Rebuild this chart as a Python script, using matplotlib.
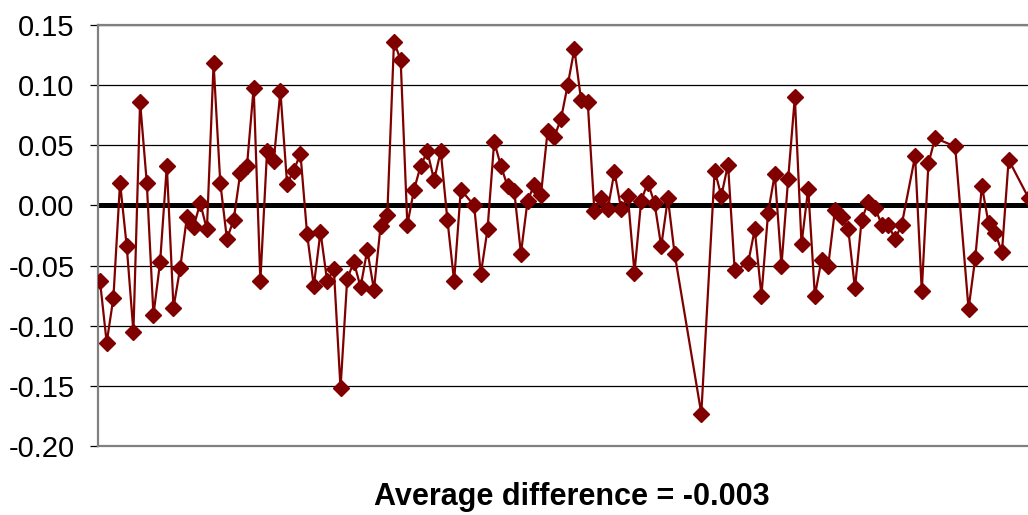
import numpy as np
import matplotlib
matplotlib.use("Agg")
import matplotlib.pyplot as plt

plt.rcParams['font.family'] = ['Liberation Sans', 'DejaVu Sans']

# Observation positions (index along the series) and differences
positions = [
    0, 1, 2, 3, 4, 5, 6, 7, 8, 9, 10, 11, 12, 13, 14, 15, 16, 17, 18, 19,
    20, 21, 22, 23, 24, 25, 26, 27, 28, 29, 30, 31, 32, 33, 34, 35, 36, 37, 38, 39,
    40, 41, 42, 43, 44, 45, 46, 47, 48, 49, 50, 51, 52, 53, 54, 56, 57, 58, 59,
    60, 61, 62, 63, 64, 65, 66, 67, 68, 69, 70, 71, 72, 73, 74, 75, 76, 77, 78, 79,
    80, 81, 82, 83, 84, 85, 86, 90, 92, 93, 94, 95, 97, 98, 99,
    100, 101, 102, 103, 104, 105, 106, 107, 108, 109, 110, 111, 112, 113, 114, 115, 116, 117, 118, 119,
    120, 122, 123, 124, 125, 128, 130, 131, 132, 133, 134, 135, 136, 139,
]
differences = [
    -0.063, -0.114, -0.077, 0.019, -0.034, -0.105, 0.086, 0.019, -0.091, -0.047,
    0.033, -0.085, -0.052, -0.010, -0.018, 0.002, -0.020, 0.118, 0.019, -0.028,
    -0.012, 0.027, 0.033, 0.098, -0.063, 0.045, 0.037, 0.095, 0.018, 0.029,
    0.043, -0.024, -0.067, -0.022, -0.063, -0.053, -0.152, -0.061, -0.047, -0.068,
    -0.037, -0.070, -0.017, -0.008, 0.136, 0.121, -0.016, 0.013, 0.033, 0.045,
    0.021, 0.045, -0.012, -0.063, 0.013, 0.000, -0.057, -0.020, 0.053,
    0.033, 0.016, 0.012, -0.040, 0.004, 0.017, 0.009, 0.062, 0.057, 0.072,
    0.100, 0.130, 0.088, 0.086, -0.005, 0.006, -0.003, 0.028, -0.003, 0.008,
    -0.056, 0.004, 0.019, 0.002, -0.034, 0.006, -0.040, -0.173, 0.029, 0.008,
    0.034, -0.054, -0.048, -0.020, -0.075,
    -0.006, 0.026, -0.050, 0.022, 0.090, -0.032, 0.014, -0.075, -0.045, -0.050,
    -0.004, -0.010, -0.020, -0.069, -0.012, 0.003, -0.002, -0.016, -0.016, -0.028,
    -0.016, 0.041, -0.071, 0.035, 0.056, 0.049, -0.086, -0.044, 0.016, -0.015,
    -0.023, -0.039, 0.038, 0.006,
]
y_ticks = [0.15, 0.10, 0.05, 0.00, -0.05, -0.10, -0.15, -0.20]
title_text = "Average difference = -0.003"

W, H = 1028, 515
fig = plt.figure(figsize=(W / 100, H / 100), dpi=100)
ax = fig.add_axes([98 / W, (H - 446) / H, (W - 98) / W, (446 - 25) / H])

ax.set_ylim(-0.20, 0.15)
ax.set_xlim(-0.3, 138.9)

for t in y_ticks:
    ax.axhline(t, color='black', lw=0.9, zorder=1)
ax.axhline(0, color='black', lw=3.6, zorder=2)

ax.plot(positions, differences, color='#800000', lw=1.6, marker='D',
        markersize=8.3, markerfacecolor='#800000', markeredgecolor='#800000',
        zorder=3, clip_on=True)

ax.set_yticks(y_ticks)
ax.set_yticklabels([f"{t:.2f}" for t in y_ticks], fontsize=21)
ax.tick_params(axis='y', length=6, width=0.9, color='black', pad=11)
ax.set_xticks([])

for s in ['top', 'bottom', 'left']:
    ax.spines[s].set_color('#808080')
    ax.spines[s].set_linewidth(1.6)
ax.spines['right'].set_visible(False)
ax.spines['top'].set_zorder(4)

fig.text(572 / W, 1 - 497 / H, title_text, ha='center', va='center',
         fontsize=22, fontweight='bold')

fig.savefig("out.png", dpi=100)
